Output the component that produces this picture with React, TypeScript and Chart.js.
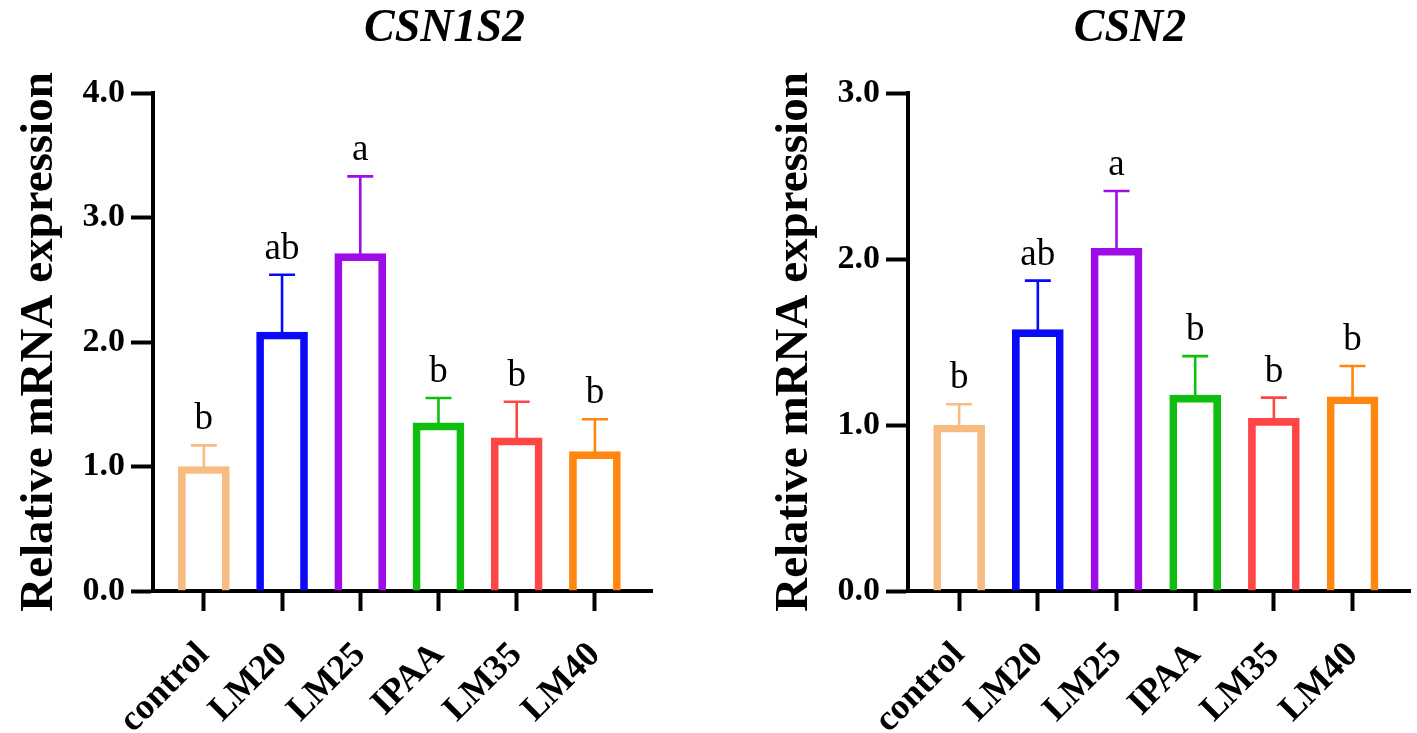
import React, { useEffect, useRef } from "react";
import { Chart, registerables } from "chart.js";

Chart.register(...registerables);

// ---- data ----
const categories = ["control", "LM20", "LM25", "IPAA", "LM35", "LM40"];
const barColors = ["#F7BC82", "#0A0AF8", "#A00CE8", "#10BE10", "#FF4646", "#FF860F"];

const csn1s2Title = "CSN1S2";
const csn1s2Means = [1.0, 2.08, 2.71, 1.35, 1.23, 1.12];
const csn1s2Errors = [0.17, 0.46, 0.62, 0.2, 0.29, 0.26];
const csn1s2Letters = ["b", "ab", "a", "b", "b", "b"];
const csn1s2YMax = 4;

const csn2Title = "CSN2";
const csn2Means = [1.0, 1.575, 2.065, 1.18, 1.04, 1.17];
const csn2Errors = [0.125, 0.295, 0.345, 0.235, 0.125, 0.185];
const csn2Letters = ["b", "ab", "a", "b", "b", "b"];
const csn2YMax = 3;

const yAxisTitle = "Relative mRNA expression";

const SERIF = '"Times New Roman", "Liberation Serif", Tinos, serif';

type PanelProps = {
  title: string;
  means: number[];
  errors: number[];
  letters: string[];
  yMax: number;
  width: number;
  left: number;
  padRight: number;
  titleDx: number;
};

function makeErrorPlugin(means: number[], errors: number[], letters: string[]) {
  return {
    id: "errorBarsLetters",
    afterDatasetsDraw(chart: any) {
      const meta = chart.getDatasetMeta(0);
      const yScale = chart.scales.y;
      const ctx: CanvasRenderingContext2D = chart.ctx;
      ctx.save();
      meta.data.forEach((bar: any, i: number) => {
        const top = yScale.getPixelForValue(means[i] + errors[i]);
        const x = bar.x;
        const cap = 26;
        ctx.strokeStyle = barColors[i];
        ctx.lineWidth = 2.6;
        ctx.beginPath();
        ctx.moveTo(x, bar.y + 2);
        ctx.lineTo(x, top);
        ctx.moveTo(x - cap / 2, top);
        ctx.lineTo(x + cap / 2, top);
        ctx.stroke();
        ctx.fillStyle = "#000";
        ctx.font = `normal 37px ${SERIF}`;
        ctx.textAlign = "center";
        ctx.textBaseline = "alphabetic";
        ctx.fillText(letters[i], x, top - 16);
      });
      ctx.restore();
    },
  };
}

function makeTitlePlugin(text: string, dx: number) {
  return {
    id: "panelTitle",
    afterDraw(chart: any) {
      const { ctx, chartArea } = chart;
      ctx.save();
      ctx.fillStyle = "#000";
      ctx.font = `italic bold 46px ${SERIF}`;
      ctx.textAlign = "center";
      ctx.textBaseline = "alphabetic";
      ctx.fillText(text, (chartArea.left + chartArea.right) / 2 + dx, 41);
      ctx.restore();
    },
  };
}

function Panel(p: PanelProps) {
  const ref = useRef<HTMLCanvasElement | null>(null);
  useEffect(() => {
    if (!ref.current) return;
    const yTicks: number[] = [];
    for (let v = 0; v <= p.yMax; v++) yTicks.push(v);
    const chart = new Chart(ref.current, {
      type: "bar",
      data: {
        datasets: [
          {
            data: p.means.map((v, i) => ({ x: i, y: v })) as any,
            borderColor: barColors,
            backgroundColor: "rgba(255,255,255,0)",
            borderWidth: 7,
            barThickness: 51,
            borderSkipped: "bottom",
          },
        ],
      },
      options: {
        animation: false,
        responsive: false,
        devicePixelRatio: 1,
        layout: { padding: { left: 0, right: p.padRight, top: 93, bottom: 0 } },
        plugins: {
          legend: { display: false },
          tooltip: { enabled: false },
          title: { display: false },
        },
        scales: {
          x: {
            type: "linear",
            offset: false,
            min: -0.65,
            max: 5.73,
            afterBuildTicks: (s: any) => {
              s.ticks = categories.map((_, i) => ({ value: i }));
            },
            afterFit: (s: any) => {
              s.height = 142;
            },
            grid: {
              display: true,
              offset: false,
              drawOnChartArea: false,
              drawTicks: true,
              tickLength: 20,
              tickWidth: 4,
              tickColor: "#000",
              color: "#000",
            },
            border: { display: true, width: 4, color: "#000" },
            ticks: {
              autoSkip: false,
              minRotation: 45,
              maxRotation: 45,
              padding: 18,
              color: "#000",
              font: { family: SERIF, size: 36, weight: "bold", lineHeight: 1.6 },
              callback: (v: any) => categories[v as number] ?? "",
            },
          },
          y: {
            type: "linear",
            min: 0,
            max: p.yMax,
            afterBuildTicks: (s: any) => {
              s.ticks = yTicks.map((v) => ({ value: v }));
            },
            afterFit: (s: any) => {
              s.width = 153;
            },
            grid: {
              display: true,
              drawOnChartArea: false,
              drawTicks: true,
              tickLength: 22,
              tickWidth: 4,
              tickColor: "#000",
              color: "#000",
            },
            border: { display: true, width: 4, color: "#000" },
            ticks: {
              padding: 6,
              color: "#000",
              font: { family: SERIF, size: 34, weight: "bold" },
              callback: (v: any) => Number(v).toFixed(1),
            },
            title: {
              display: true,
              text: yAxisTitle,
              color: "#000",
              padding: { top: 12, bottom: 0 },
              font: { family: SERIF, size: 47, weight: "bold" },
            },
          },
        },
      },
      plugins: [makeErrorPlugin(p.means, p.errors, p.letters), makeTitlePlugin(p.title, p.titleDx)],
    } as any);
    let alive = true;
    const fontSpecs = [
      `bold 36px ${SERIF}`,
      `italic bold 46px ${SERIF}`,
      `normal 37px ${SERIF}`,
    ];
    if ((document as any).fonts) {
      Promise.all(fontSpecs.map((f) => (document as any).fonts.load(f)))
        .catch(() => null)
        .then(() => {
          if (alive) chart.update();
        });
    }
    return () => {
      alive = false;
      chart.destroy();
    };
  }, []);
  return (
    <canvas
      ref={ref}
      width={p.width}
      height={733}
      style={{ position: "absolute", left: p.left, top: 0, display: "block" }}
    />
  );
}

export default function App() {
  return (
    <div
      style={{
        position: "fixed",
        left: 0,
        top: 0,
        width: 1417,
        height: 733,
        background: "#fff",
        overflow: "hidden",
      }}
    >
      <Panel
        title={csn1s2Title}
        means={csn1s2Means}
        errors={csn1s2Errors}
        letters={csn1s2Letters}
        yMax={csn1s2YMax}
        width={708}
        left={0}
        padRight={56}
        titleDx={42}
      />
      <Panel
        title={csn2Title}
        means={csn2Means}
        errors={csn2Errors}
        letters={csn2Letters}
        yMax={csn2YMax}
        width={662}
        left={755}
        padRight={7}
        titleDx={-29}
      />
    </div>
  );
}
